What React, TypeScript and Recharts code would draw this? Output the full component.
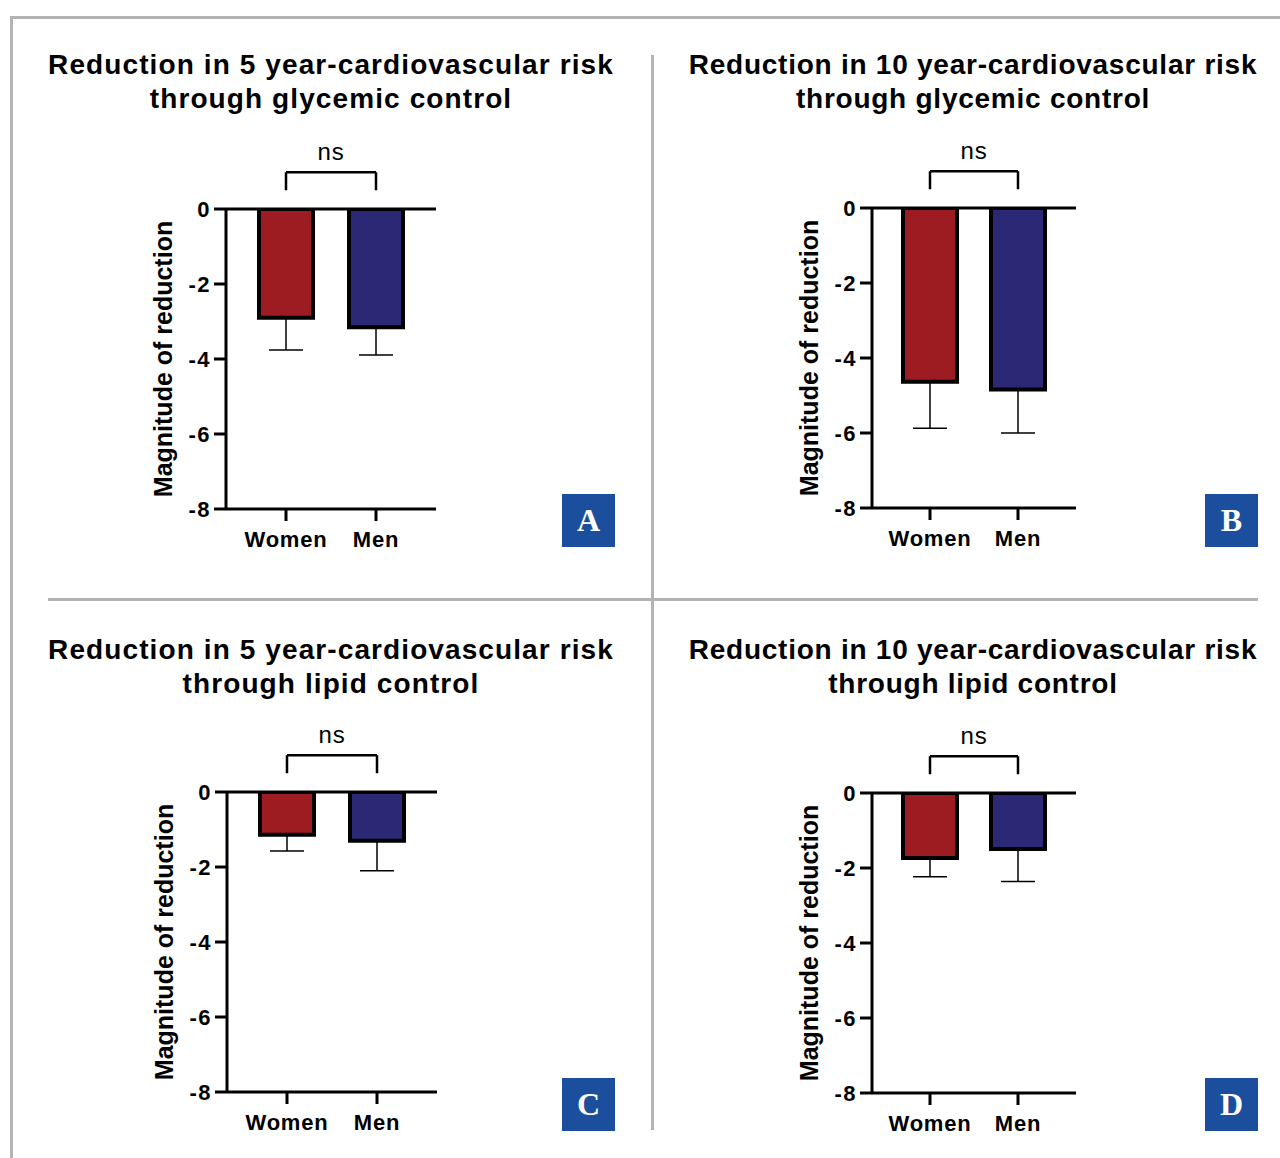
import React from 'react';
import { BarChart, Bar, XAxis, YAxis, ReferenceLine, ErrorBar, Cell, Label } from 'recharts';

// 막대 값 (감소량, 음수) 과 표준편차
const categories = ['Women', 'Men'];
const glycemic5Mean = [-2.9, -3.15];
const glycemic5Err = [0.86, 0.74];
const glycemic10Mean = [-4.63, -4.84];
const glycemic10Err = [1.24, 1.16];
const lipid5Mean = [-1.14, -1.3];
const lipid5Err = [0.43, 0.8];
const lipid10Mean = [-1.73, -1.49];
const lipid10Err = [0.5, 0.87];
const yTicks = [0, -2, -4, -6, -8];
const barColors = ['#9c1c22', '#2b2875'];

const FONT = '"Liberation Sans", Arial, Helvetica, sans-serif';
const GRID = '#b3b3b3';
const TOP_MARGIN = 99;

interface PanelProps {
    mean: number[];
    err: number[];
    left: number;
    top: number;
    plotWidth: number;
    pad: number;
    titleLines: string[];
    titleCx: number;
    titleTop: number;
    titleSpacing: number;
    tag: string;
    tagLeft: number;
    tagTop: number;
}

function Panel({ mean, err, left, top, plotWidth, pad, titleLines, titleCx, titleTop, titleSpacing, tag, tagLeft, tagTop }: PanelProps) {
    const data = categories.map((name, i) => ({ name, value: mean[i], err: [err[i], 0] }));

    return (
        <>
            <div style={{ position: 'absolute', left, top: top - (TOP_MARGIN - 69) }}>
                <BarChart
                    width={86 + plotWidth + 24}
                    height={420 + TOP_MARGIN - 69}
                    data={data}
                    margin={{ top: TOP_MARGIN, right: 24, bottom: 0, left: 0 }}
                >
                    <XAxis
                        dataKey="name"
                        height={51}
                        padding={{ left: pad, right: pad }}
                        tickSize={12}
                        tickMargin={10}
                        axisLine={{ stroke: '#000', strokeWidth: 3 }}
                        tickLine={{ stroke: '#000', strokeWidth: 3 }}
                        tick={{ fill: '#000', fontSize: 22, fontWeight: 700, fontFamily: FONT, letterSpacing: 0.8 }}
                    />
                    <YAxis
                        domain={[-8, 0]}
                        ticks={yTicks}
                        interval={0}
                        width={86}
                        tickSize={12}
                        tickMargin={3}
                        allowDataOverflow
                        axisLine={{ stroke: '#000', strokeWidth: 3 }}
                        tickLine={{ stroke: '#000', strokeWidth: 3 }}
                        tick={{ fill: '#000', fontSize: 22, fontWeight: 700, fontFamily: FONT, letterSpacing: 1.5 }}
                    >
                        <Label
                            content={({ viewBox }: any) => {
                                const cx = viewBox.x + 23;
                                const cy = viewBox.y + viewBox.height / 2;
                                return (
                                    <text
                                        x={cx}
                                        y={cy}
                                        transform={`rotate(-90 ${cx} ${cy})`}
                                        textAnchor="middle"
                                        dominantBaseline="central"
                                        fontFamily={FONT}
                                        fontWeight={700}
                                        fontSize={25}
                                        fill="#000"
                                    >
                                        Magnitude of reduction
                                    </text>
                                );
                            }}
                        />
                    </YAxis>
                    <Bar dataKey="value" barSize={54} stroke="#000" strokeWidth={4} isAnimationActive={false}>
                        {data.map((d, i) => (
                            <Cell key={d.name} fill={barColors[i]} />
                        ))}
                        <ErrorBar dataKey="err" direction="y" width={17} stroke="#000" strokeWidth={1.5} />
                    </Bar>
                    <ReferenceLine y={0} stroke="#000" strokeWidth={3} />
                    {/* ns 브래킷 */}
                    <ReferenceLine
                        segment={[{ x: 'Women', y: 0.98 }, { x: 'Men', y: 0.98 }]}
                        ifOverflow="visible"
                        stroke="#000"
                        strokeWidth={2.5}
                        label={{ value: 'ns', position: 'top', offset: 12, fill: '#000', fontSize: 24, fontFamily: FONT, letterSpacing: 0.8 }}
                    />
                    <ReferenceLine
                        segment={[{ x: 'Women', y: 0.98 }, { x: 'Women', y: 0.5 }]}
                        ifOverflow="visible"
                        stroke="#000"
                        strokeWidth={2.5}
                    />
                    <ReferenceLine
                        segment={[{ x: 'Men', y: 0.98 }, { x: 'Men', y: 0.5 }]}
                        ifOverflow="visible"
                        stroke="#000"
                        strokeWidth={2.5}
                    />
                </BarChart>
            </div>
            <div
                style={{
                    position: 'absolute',
                    left: titleCx - 330,
                    width: 660,
                    top: titleTop,
                    textAlign: 'center',
                    fontFamily: FONT,
                    fontWeight: 700,
                    fontSize: 28,
                    letterSpacing: titleSpacing,
                    lineHeight: '34px',
                    color: '#000',
                }}
            >
                {titleLines.map((t) => (
                    <div key={t}>{t}</div>
                ))}
            </div>
            <div
                style={{
                    position: 'absolute',
                    left: tagLeft,
                    top: tagTop,
                    width: 53,
                    height: 53,
                    background: '#1b4f9e',
                    color: '#fff',
                    fontFamily: '"Liberation Serif", "DejaVu Serif", serif',
                    fontWeight: 700,
                    fontSize: 32,
                    lineHeight: '53px',
                    textAlign: 'center',
                }}
            >
                {tag}
            </div>
        </>
    );
}

export default function App() {
    return (
        <div style={{ position: 'absolute', left: 0, top: 0, width: 1280, height: 1158, background: '#fff', overflow: 'hidden' }}>
            {/* 외곽선과 구분선 */}
            <div style={{ position: 'absolute', left: 10, top: 16, width: 1270, height: 3, background: GRID }} />
            <div style={{ position: 'absolute', left: 10, top: 16, width: 3, height: 1142, background: GRID }} />
            <div style={{ position: 'absolute', left: 651, top: 55, width: 3, height: 1075, background: GRID }} />
            <div style={{ position: 'absolute', left: 48, top: 598, width: 1210, height: 3, background: GRID }} />

            <Panel
                mean={glycemic5Mean}
                err={glycemic5Err}
                left={140}
                top={140}
                plotWidth={210}
                pad={15}
                titleLines={['Reduction in 5 year-cardiovascular risk', 'through glycemic control']}
                titleCx={331}
                titleTop={48}
                titleSpacing={1.1}
                tag="A"
                tagLeft={562}
                tagTop={494}
            />
            <Panel
                mean={glycemic10Mean}
                err={glycemic10Err}
                left={786}
                top={139}
                plotWidth={204}
                pad={14}
                titleLines={['Reduction in 10 year-cardiovascular risk', 'through glycemic control']}
                titleCx={973}
                titleTop={48}
                titleSpacing={0.75}
                tag="B"
                tagLeft={1205}
                tagTop={494}
            />
            <Panel
                mean={lipid5Mean}
                err={lipid5Err}
                left={141}
                top={723}
                plotWidth={210}
                pad={15}
                titleLines={['Reduction in 5 year-cardiovascular risk', 'through lipid control']}
                titleCx={331}
                titleTop={633}
                titleSpacing={1.1}
                tag="C"
                tagLeft={562}
                tagTop={1078}
            />
            <Panel
                mean={lipid10Mean}
                err={lipid10Err}
                left={786}
                top={724}
                plotWidth={204}
                pad={14}
                titleLines={['Reduction in 10 year-cardiovascular risk', 'through lipid control']}
                titleCx={973}
                titleTop={633}
                titleSpacing={0.75}
                tag="D"
                tagLeft={1205}
                tagTop={1078}
            />
        </div>
    );
}
